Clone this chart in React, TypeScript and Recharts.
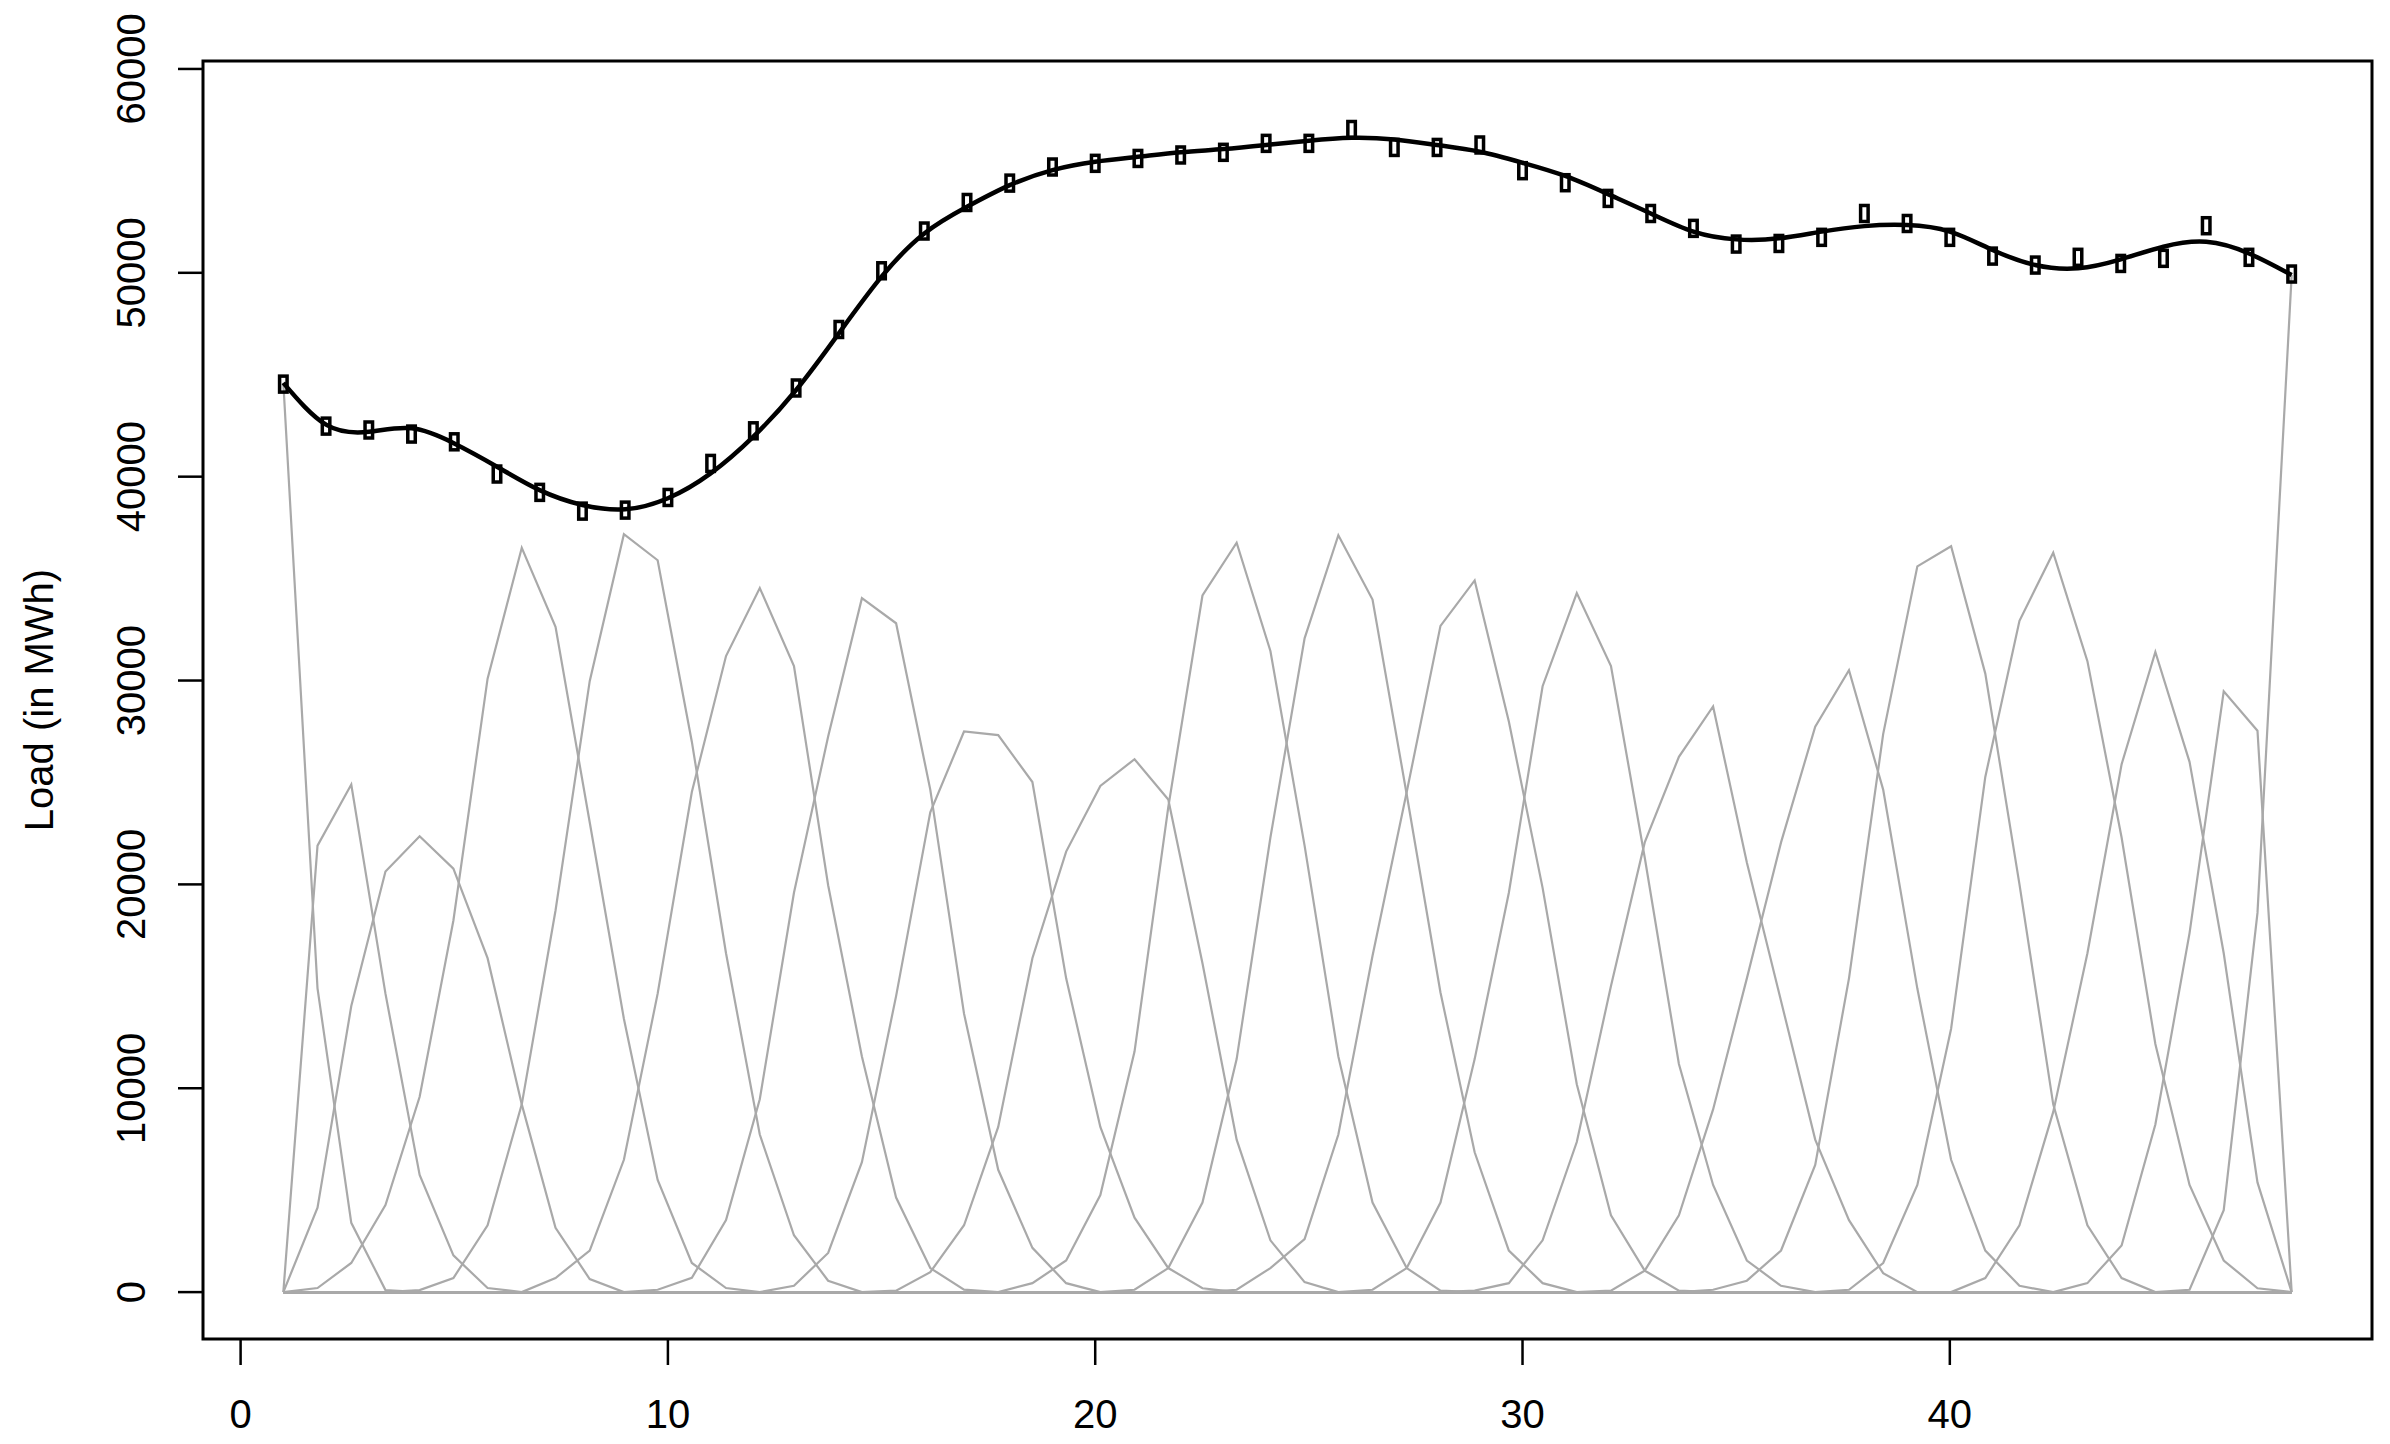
import React from 'react';
import {
  ComposedChart,
  Line,
  Scatter,
  XAxis,
  YAxis,
  ReferenceArea
} from 'recharts';

const FONT = '"Liberation Sans", Arial, Helvetica, sans-serif';

// evaluation grid of the basis curves
const gridX = [
  1.0, 1.8, 2.59, 3.39, 4.19, 4.98, 5.78, 6.58, 7.37, 8.17,
  8.97, 9.76, 10.56, 11.36, 12.15, 12.95, 13.75, 14.54, 15.34, 16.14,
  16.93, 17.73, 18.53, 19.32, 20.12, 20.92, 21.71, 22.51, 23.31, 24.1,
  24.9, 25.69, 26.49, 27.29, 28.08, 28.88, 29.68, 30.47, 31.27, 32.07,
  32.86, 33.66, 34.46, 35.25, 36.05, 36.85, 37.64, 38.44, 39.24, 40.03,
  40.83, 41.63, 42.42, 43.22, 44.02, 44.81, 45.61, 46.41, 47.2, 48.0
];

// index into gridX where each scaled basis curve starts (zero elsewhere)
const basisStart = [0, 0, 0, 0, 4, 8, 11, 15, 18, 22, 25, 28, 32, 35, 39, 42, 46, 50, 53, 56];

const basisValues = [
  [44600, 14900, 3400, 100],
  [0, 21900, 24900, 14640, 5750, 1800, 200],
  [0, 4140, 14030, 20630, 22360, 20770, 16380, 9210, 3150, 640],
  [0, 200, 1430, 4270, 9580, 18230, 30090, 36510, 32630, 23050, 13410, 5500, 1430, 200],
  [100, 690, 3280, 9210, 18720, 29970, 37180, 35900, 27000, 16620, 7730, 2790, 560],
  [690, 2040, 6490, 14640, 24530, 31200, 34540, 30710, 19960, 11560, 4640, 1180, 120],
  [115, 700, 3530, 9460, 19590, 27250, 34040, 32810, 24650, 13660, 6000, 2170, 440],
  [310, 1920, 6370, 14520, 23540, 27500, 27320, 25020, 15390, 8100, 3650, 1180, 190],
  [70, 980, 3280, 8100, 16380, 21610, 24830, 26140, 24160, 16130, 7480, 2540, 490],
  [440, 1550, 4760, 11800, 23790, 34170, 36760, 31450, 21900, 11560, 4390, 1180, 70],
  [115, 1180, 4390, 11430, 22300, 32070, 37130, 33970, 24410, 14700, 6860, 2040, 440],
  [115, 1180, 2600, 7730, 16500, 24530, 32680, 34910, 27990, 19830, 10200, 3770, 1055, 70],
  [115, 1180, 4390, 11430, 19590, 29720, 34290, 30710, 21320, 11190, 5255, 1550, 310],
  [70, 440, 2540, 7360, 15020, 22060, 26260, 28730, 21070, 14280, 7480, 3530, 930],
  [70, 1055, 3770, 8960, 15390, 22060, 27740, 30510, 24650, 14890, 6490, 2040, 310],
  [115, 560, 2040, 6240, 15390, 27370, 35600, 36590, 30340, 20000, 9210, 3280, 690],
  [115, 1425, 5255, 12920, 25270, 32930, 36270, 30950, 22300, 12170, 5255, 1550, 190],
  [690, 3280, 8840, 16620, 25890, 31400, 26010, 16620, 5380],
  [440, 2290, 8220, 17610, 29470, 27540],
  [115, 4020, 18600, 49900]
];

// half-hour periods
const periods = [
  1, 2, 3, 4, 5, 6, 7, 8, 9, 10, 11, 12, 13, 14, 15, 16, 17, 18, 19, 20, 21, 22, 23, 24,
  25, 26, 27, 28, 29, 30, 31, 32, 33, 34, 35, 36, 37, 38, 39, 40, 41, 42, 43, 44, 45, 46, 47, 48
];

const observedLoad = [
  44540, 42480, 42290, 42090, 41710, 40130, 39230, 38310, 38360, 38980, 40650, 42250,
  44350, 47220, 50100, 52050, 53450, 54400, 55190, 55370, 55610, 55780, 55910, 56350,
  56350, 57030, 56150, 56150, 56270, 55010, 54420, 53650, 52910, 52180, 51410, 51440,
  51740, 52910, 52420, 51740, 50820, 50380, 50760, 50460, 50710, 52310, 50760, 49940
];

const fittedLoad = [
  44600, 42550, 42200, 42370, 41630, 40490, 39340, 38610, 38400, 38940, 40160, 41960,
  44250, 47030, 49810, 51930, 53240, 54300, 55040, 55450, 55690, 55910, 56070, 56270,
  56480, 56620, 56540, 56270, 55940, 55400, 54750, 53860, 52910, 52020, 51640, 51690,
  52020, 52290, 52340, 52020, 51120, 50380, 50220, 50660, 51280, 51520, 50950, 49890
];

const xTicks = [0, 10, 20, 30, 40];
const yTicks = [0, 10000, 20000, 30000, 40000, 50000, 60000];

const basisRows = gridX.map((x, k) => {
  const row: Record<string, number> = { x };
  basisValues.forEach((vals, i) => {
    const j = k - basisStart[i];
    row['b' + i] = j >= 0 && j < vals.length ? vals[j] : 0;
  });
  return row;
});

const observedRows = periods.map((x, i) => ({ x, load: observedLoad[i] }));
const fittedRows = periods.map((x, i) => ({ x, fit: fittedLoad[i] }));

const YTick = (props: any) => {
  const { x, y, payload } = props;
  const tx = x - 31;
  return (
    <text
      x={tx}
      y={y}
      transform={`rotate(-90 ${tx} ${y})`}
      textAnchor="middle"
      fontSize={40}
      fontFamily={FONT}
      fill="#000"
    >
      {payload.value}
    </text>
  );
};

const YTitle = (props: any) => {
  const vb = props.viewBox && props.viewBox.height ? props.viewBox : { x: 0, y: 53, width: 195, height: 1278 };
  const tx = vb.x + 45;
  const ty = vb.y + vb.height / 2;
  return (
    <text
      x={tx}
      y={ty}
      transform={`rotate(-90 ${tx} ${ty})`}
      textAnchor="middle"
      fontSize={40}
      fontFamily={FONT}
      fill="#000"
    >
      Load (in MWh)
    </text>
  );
};

const Marker = (props: any) => {
  const { cx, cy } = props;
  if (cx == null || cy == null) return null;
  return (
    <rect x={cx - 3.75} y={cy - 8} width={7.5} height={16} fill="none" stroke="#000" strokeWidth={3.5} />
  );
};

export default function App() {
  return (
    <ComposedChart
      width={2370}
      height={1428}
      data={basisRows}
      margin={{ top: 53, right: 6, bottom: 0, left: 0 }}
      style={{ background: '#fff' }}
    >
      <XAxis
        type="number"
        dataKey="x"
        domain={[-0.88, 49.88]}
        ticks={xTicks}
        interval={0}
        height={97}
        axisLine={false}
        tickLine={{ stroke: '#000', strokeWidth: 2.5 }}
        tickSize={26}
        tickMargin={35}
        tick={{ fontSize: 40, fontFamily: FONT, fill: '#000' }}
      />
      <YAxis
        type="number"
        domain={[-2300, 60390]}
        ticks={yTicks}
        interval={0}
        width={195}
        axisLine={false}
        tickLine={{ stroke: '#000', strokeWidth: 2.5 }}
        tickSize={25}
        tickMargin={2}
        tick={<YTick />}
        label={<YTitle />}
      />
      {basisValues.map((_, i) => (
        <Line
          key={'b' + i}
          type="linear"
          dataKey={'b' + i}
          stroke="#a9a9a9"
          strokeWidth={2.2}
          dot={false}
          activeDot={false}
          isAnimationActive={false}
        />
      ))}
      <Line
        data={fittedRows}
        type="natural"
        dataKey="fit"
        stroke="#000"
        strokeWidth={4.5}
        dot={false}
        activeDot={false}
        isAnimationActive={false}
      />
      <Scatter data={observedRows} dataKey="load" shape={<Marker />} isAnimationActive={false} />
      <ReferenceArea
        x1={-0.88}
        x2={49.88}
        y1={-2300}
        y2={60390}
        fill="none"
        fillOpacity={0}
        stroke="#000"
        strokeWidth={3}
        ifOverflow="visible"
      />
    </ComposedChart>
  );
}
